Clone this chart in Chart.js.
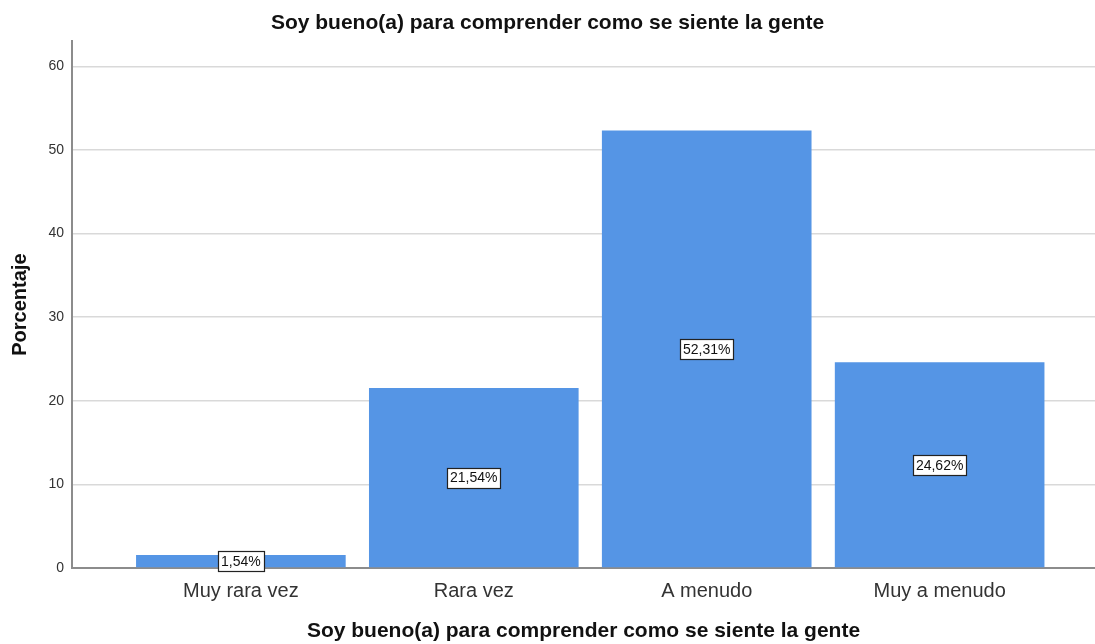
<!DOCTYPE html>
<html>
<head>
<meta charset="utf-8">
<script src="https://cdn.jsdelivr.net/npm/chart.js@4/dist/chart.umd.min.js"></script>
<style>
html,body{margin:0;padding:0;background:#fff;}
#wrap{width:1095px;height:644px;}
</style>
</head>
<body>
<div id="wrap"><canvas id="c" width="1095" height="644"></canvas></div>
<script>
const categories = ["Muy rara vez", "Rara vez", "A menudo", "Muy a menudo"];
const percentages = [1.54, 21.54, 52.31, 24.62];
const valueLabels = ["1,54%", "21,54%", "52,31%", "24,62%"];
const yTicks = [0, 10, 20, 30, 40, 50, 60];
const chartTitle = "Soy bueno(a) para comprender como se siente la gente";
const xTitle = "Soy bueno(a) para comprender como se siente la gente";
const yTitle = "Porcentaje";

const FONT = "'Liberation Sans', Arial, sans-serif";

const labelPlugin = {
  id: 'boxLabels',
  afterDatasetsDraw(chart) {
    const ctx = chart.ctx;
    const meta = chart.getDatasetMeta(0);
    ctx.save();
    ctx.font = "14px " + FONT;
    ctx.textAlign = 'center';
    ctx.textBaseline = 'middle';
    meta.data.forEach((bar, i) => {
      const txt = valueLabels[i];
      const cy = (bar.y + bar.base) / 2;
      const w = Math.round(ctx.measureText(txt).width + 6);
      const h = 20;
      const x0 = Math.round(bar.x - w / 2) + 0.5;
      const y0 = Math.round(cy - h / 2) + 0.5;
      ctx.fillStyle = '#ffffff';
      ctx.fillRect(x0, y0, w, h);
      ctx.strokeStyle = '#222222';
      ctx.lineWidth = 1.2;
      ctx.strokeRect(x0, y0, w, h);
      ctx.fillStyle = '#111111';
      ctx.fillText(txt, bar.x, cy + 1);
    });
    ctx.restore();
  }
};

new Chart(document.getElementById('c'), {
  type: 'bar',
  data: {
    datasets: [{
      data: percentages.map((v, i) => ({ x: i, y: v })),
      backgroundColor: '#5595e5',
      borderWidth: 0,
      barPercentage: 0.9,
      categoryPercentage: 1.0
    }]
  },
  options: {
    responsive: false,
    animation: false,
    layout: { padding: { left: 0, right: 0, top: 0, bottom: 0 } },
    plugins: {
      legend: { display: false },
      tooltip: { enabled: false },
      title: {
        display: true,
        text: chartTitle,
        color: '#111',
        font: { family: FONT, size: 21, weight: 'bold' },
        padding: { top: 11, bottom: 5 }
      }
    },
    scales: {
      x: {
        type: 'linear',
        offset: false,
        min: -0.725,
        max: 3.667,
        afterBuildTicks(scale) {
          scale.ticks = categories.map((c, i) => ({ value: i }));
        },
        afterFit(scale) { scale.height = 76; },
        grid: { display: false, drawTicks: false },
        border: { display: true, color: '#8c8c8c', width: 2 },
        ticks: {
          padding: 11,
          color: '#333',
          autoSkip: false,
          maxRotation: 0,
          font: { family: FONT, size: 20 },
          callback: (v) => categories[v] !== undefined ? categories[v] : ''
        },
        title: {
          display: true,
          text: xTitle,
          color: '#111',
          font: { family: FONT, size: 21, weight: 'bold' },
          padding: { top: 0, bottom: 0 }
        }
      },
      y: {
        min: 0,
        max: 63,
        afterBuildTicks(scale) {
          scale.ticks = yTicks.map(v => ({ value: v }));
        },
        afterFit(scale) { scale.width = 72; },
        grid: { color: '#d9d9d9', lineWidth: 1.5, drawTicks: false },
        border: { display: true, color: '#8c8c8c', width: 2 },
        ticks: {
          padding: 8,
          color: '#333',
          font: { family: FONT, size: 14 }
        },
        title: {
          display: true,
          text: yTitle,
          color: '#111',
          font: { family: FONT, size: 20, weight: 'bold' },
          padding: { top: 8, bottom: 0 }
        }
      }
    }
  },
  plugins: [labelPlugin]
});
</script>
</body>
</html>
